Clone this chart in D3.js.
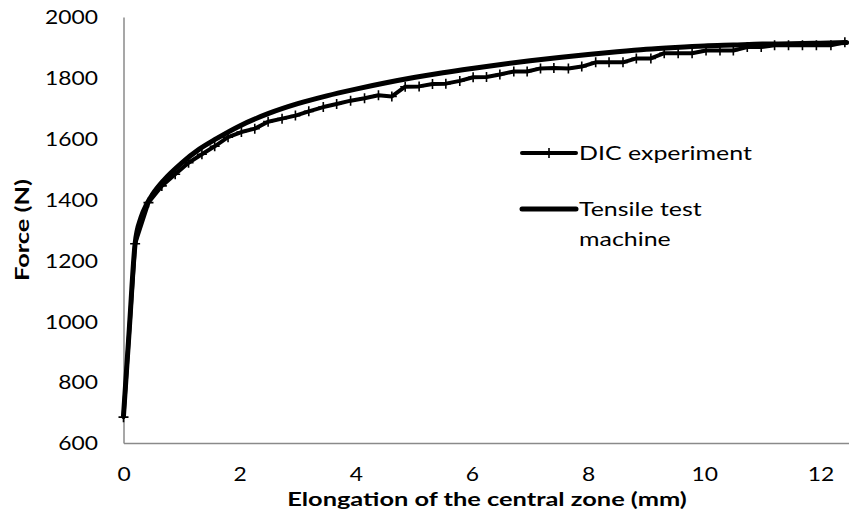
<!DOCTYPE html>
<html><head><meta charset="utf-8">
<script src="https://cdn.jsdelivr.net/npm/d3@7/dist/d3.min.js"></script>
<style>
body{margin:0;background:#fff;}
text{font-family:Lato,"Open Sans",sans-serif;fill:#000;}
</style>
</head><body>
<svg id="chart" width="849" height="522"></svg>
<script>
// ---- data ----
const dicX = [0,0.20,0.43,0.66,0.89,1.12,1.35,1.57,1.80,2.03,2.26,2.49,2.73,2.96,3.19,3.44,3.67,3.91,4.15,4.39,4.62,4.85,5.09,5.32,5.55,5.79,6.02,6.25,6.48,6.72,6.95,7.18,7.41,7.66,7.89,8.13,8.36,8.60,8.83,9.08,9.31,9.55,9.79,10.03,10.27,10.50,10.74,10.98,11.21,11.45,11.69,11.93,12.18,12.42];
const dicF = [685,1255,1390,1445,1483,1521,1549,1575,1605,1622,1633,1656,1666,1676,1690,1704,1714,1725,1733,1743,1739,1771,1772,1780,1781,1790,1802,1803,1811,1821,1821,1831,1832,1831,1837,1851,1851,1851,1864,1864,1881,1881,1881,1890,1890,1890,1901,1901,1907,1907,1907,1907,1907,1917];
const tenX = [0,0.1,0.2,0.3,0.4,0.5,0.7,1.0,1.3,1.6,2.0,2.5,3.0,3.5,4.0,4.5,5.0,5.5,6.0,6.5,7.0,7.5,8.0,8.5,9.0,9.5,10.0,10.5,11.0,11.5,12.0,12.45];
const tenF = [690,975,1255,1340,1385,1417,1465,1520,1565,1600,1642,1683,1715,1741,1763,1783,1801,1817,1831,1844,1856,1867,1877,1886,1894,1900,1905,1908,1911,1912,1914,1916];
const xTicks = [0,2,4,6,8,10,12];
const yTicks = [600,800,1000,1200,1400,1600,1800,2000];
const seriesNames = ["DIC experiment","Tensile test machine"];
const legendLines = [["DIC experiment"],["Tensile test","machine"]];
const xTitle = "Elongation of the central zone (mm)";
const yTitle = "Force (N)";

// ---- layout ----
const svg = d3.select("#chart");
const x = d3.scaleLinear().domain([0,12.5]).range([123.5,849.5]);
const y = d3.scaleLinear().domain([600,2000]).range([443,17]);
const FS = 19.5;
const axisColor = "#8a8a8a";

function natWidth(str, weight, size){
  const t = svg.append("text").attr("font-size",size).attr("font-weight",weight).text(str);
  const w = t.node().getComputedTextLength(); t.remove(); return w;
}
const sxTick = 53 / natWidth("2000","normal",FS);
const sxLeg = 173 / natWidth("DIC experiment","normal",FS);
const sxTitle = 400 / natWidth(xTitle,"bold",FS);

// axes
const yAxis = d3.axisLeft(y).tickValues(yTicks).tickSize(0).tickFormat(d3.format("d"));
const gy = svg.append("g").attr("transform","translate(123.5,0)").call(yAxis);
gy.select(".domain").attr("stroke",axisColor).attr("stroke-width",1.5);
gy.selectAll(".tick text").attr("x",0).attr("dy",null).attr("y",6.8)
  .attr("font-size",FS).attr("font-family",null).attr("fill","#000")
  .attr("text-anchor","end")
  .attr("transform",`translate(-25.5,0) scale(${sxTick},1)`);

const xAxis = d3.axisBottom(x).tickValues(xTicks).tickSize(0).tickFormat(d3.format("d"));
const gx = svg.append("g").attr("transform","translate(0,443)").call(xAxis);
gx.select(".domain").attr("stroke",axisColor).attr("stroke-width",1.5);
gx.selectAll(".tick text").attr("y",0).attr("dy",null)
  .attr("font-size",FS).attr("font-family",null).attr("fill","#000")
  .attr("text-anchor","middle")
  .attr("transform",`translate(0,38) scale(${sxTick},1)`);

// titles
svg.append("text").attr("font-size",FS).attr("font-weight","bold").attr("text-anchor","middle")
  .attr("transform",`translate(487,506) scale(${sxTitle},1)`).text(xTitle);
svg.append("text").attr("font-size",FS).attr("font-weight","bold").attr("text-anchor","middle")
  .attr("transform",`translate(29,230) rotate(-90) scale(${sxTitle},1)`).text(yTitle);

// series
const dic = dicX.map((v,i)=>({x:v,f:dicF[i]}));
const ten = tenX.map((v,i)=>({x:v,f:tenF[i]}));
const lineStraight = d3.line().x(d=>x(d.x)).y(d=>y(d.f));
const lineSmooth = d3.line().x(d=>x(d.x)).y(d=>y(d.f)).curve(d3.curveMonotoneX);

svg.append("path").datum(dic).attr("d",lineStraight).attr("fill","none")
  .attr("stroke","#000").attr("stroke-width",4).attr("stroke-linejoin","round").attr("stroke-linecap","round");
function plus(g, cx, cy){
  g.append("path").attr("d",`M${cx-5},${cy}H${cx+5}M${cx},${cy-5}V${cy+5}`)
   .attr("stroke","#000").attr("stroke-width",1.6).attr("fill","none");
}
const mg = svg.append("g");
dic.forEach(d=>plus(mg, x(d.x), y(d.f)));

svg.append("path").datum(ten).attr("d",lineSmooth).attr("fill","none")
  .attr("stroke","#000").attr("stroke-width",5).attr("stroke-linejoin","round").attr("stroke-linecap","round");

// legend
const leg = svg.append("g");
const legY = [153,209];
legendLines.forEach((lines,i)=>{
  leg.append("line").attr("x1",522).attr("x2",576).attr("y1",legY[i]).attr("y2",legY[i])
    .attr("stroke","#000").attr("stroke-width",i===0?4:5).attr("stroke-linecap","round");
  if(i===0) plus(leg, 549, legY[i]);
  lines.forEach((ln,j)=>{
    leg.append("text").attr("font-size",FS)
      .attr("transform",`translate(579,${legY[i]+6.5+j*30}) scale(${sxLeg},1)`).text(ln);
  });
});
</script>
</body></html>
